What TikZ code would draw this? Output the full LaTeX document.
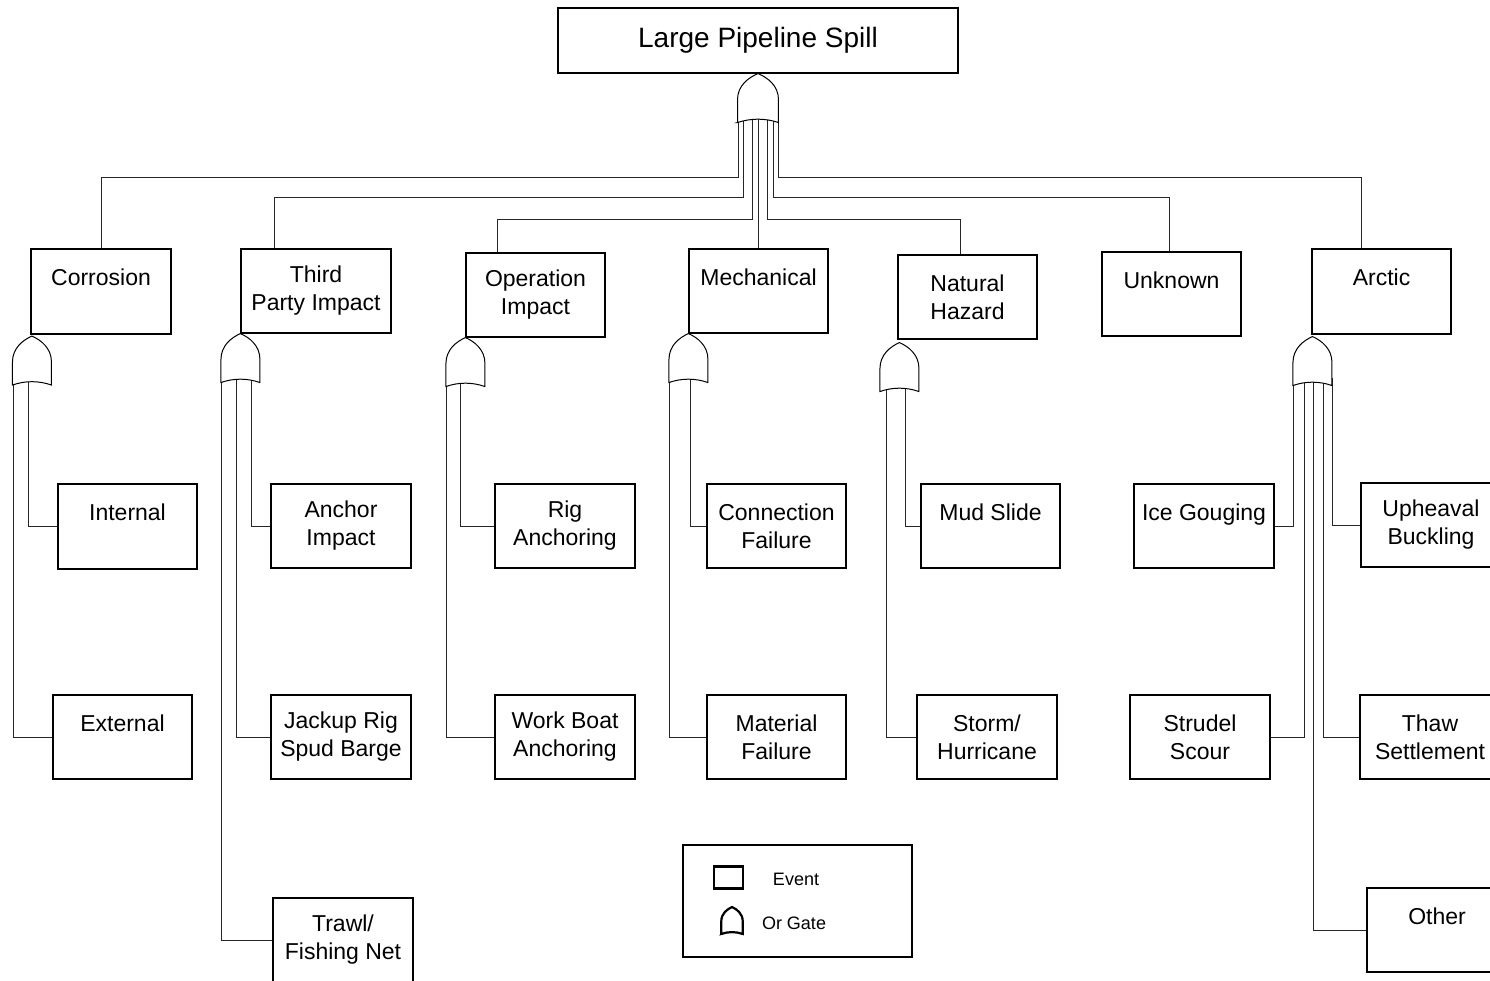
\documentclass[tikz,border=0pt]{standalone}
\usepackage{fontspec}
\setmainfont{Liberation Sans}
\usetikzlibrary{calc}
\tikzset{
  evt/.style={draw=black, line width=1.1pt, fill=white, inner sep=0pt, align=center,
    font=\fontsize{23}{28}\selectfont},
  link/.style={draw=black!85, line width=1pt},
  gate/.style={draw=black, fill=white},
  orgate/.pic={\path[gate, pic actions] (-19.5,49) -- (-19.5,26) .. controls (-19.5,12) and (-9,4) .. (0,0)
     .. controls (9,4) and (19.5,12) .. (19.5,26) -- (19.5,49) .. controls (7,44.5) and (-7,44.5) .. cycle;},
  legtxt/.style={font=\fontsize{18}{21}\selectfont, inner sep=0pt}
}
\begin{document}
\begin{tikzpicture}[x=1pt, y=-1pt, line width=1pt]
\clip (0,0) rectangle (1490,980);
\fill[white] (0,0) rectangle (1490,980);

% top event
\node[evt, minimum width=400pt, minimum height=65pt, font=\fontsize{28}{32}\selectfont] (top) at (758,40.5) {Large Pipeline Spill};

% level 1
\node[evt, minimum width=140pt, minimum height=85pt] (corr)  at (101,291.5)  {Corrosion\\\phantom{X}};
\node[evt, minimum width=150pt, minimum height=84pt] (third) at (316,291)    {Third\\Party Impact};
\node[evt, minimum width=139pt, minimum height=84pt] (oper)  at (535.5,295)  {Operation\\Impact};
\node[evt, minimum width=139pt, minimum height=84pt] (mech)  at (758.5,291)  {Mechanical\\\phantom{X}};
\node[evt, minimum width=139pt, minimum height=84pt] (nat)   at (967.5,297)  {Natural\\Hazard};
\node[evt, minimum width=139pt, minimum height=84pt] (unk)   at (1171.5,294) {Unknown\\\phantom{X}};
\node[evt, minimum width=139pt, minimum height=85pt] (arc)   at (1381.5,291.5) {Arctic\\\phantom{X}};

% level 2
\node[evt, minimum width=139pt, minimum height=85pt] (int)    at (127.5,526.5) {Internal\\\phantom{X}};
\node[evt, minimum width=139pt, minimum height=84pt] (ext)    at (122.5,737)   {External\\\phantom{X}};
\node[evt, minimum width=140pt, minimum height=84pt] (anch)   at (341,526)     {Anchor\\Impact};
\node[evt, minimum width=140pt, minimum height=84pt] (jack)   at (341,737)     {Jackup Rig\\Spud Barge};
\node[evt, minimum width=140pt, minimum height=84pt] (trawl)  at (343,940)     {Trawl/\\Fishing Net};
\node[evt, minimum width=140pt, minimum height=84pt] (rig)    at (565,526)     {Rig\\Anchoring};
\node[evt, minimum width=140pt, minimum height=84pt] (work)   at (565,737)     {Work Boat\\Anchoring};
\node[evt, minimum width=139pt, minimum height=84pt] (confail) at (776.5,526)  {Connection\\Failure};
\node[evt, minimum width=139pt, minimum height=84pt] (mat)    at (776.5,737)   {Material\\Failure};
\node[evt, minimum width=139pt, minimum height=84pt] (mud)    at (990.5,526)   {Mud Slide\\\phantom{X}};
\node[evt, minimum width=140pt, minimum height=84pt] (storm)  at (987,737)     {Storm/\\Hurricane};
\node[evt, minimum width=140pt, minimum height=84pt] (ice)    at (1204,526)    {Ice Gouging\\\phantom{X}};
\node[evt, minimum width=140pt, minimum height=84pt] (strud)  at (1200,737)    {Strudel\\Scour};
\node[evt, minimum width=140pt, minimum height=84pt] (uph)    at (1431,525)    {Upheaval\\Buckling};
\node[evt, minimum width=140pt, minimum height=84pt] (thaw)   at (1430,737)    {Thaw\\Settlement};
\node[evt, minimum width=140pt, minimum height=84pt] (other)  at (1437,930)    {Other\\\phantom{X}};

% entry points on level-1 boxes
\coordinate (thirdin) at ($(third.north west)+(34,0)$);
\coordinate (operin)  at ($(oper.north west)+(32,0)$);
\coordinate (natin)   at ($(nat.north west)+(63,0)$);
\coordinate (unkin)   at ($(unk.north west)+(68,0)$);
\coordinate (arcin)   at ($(arc.north west)+(50,0)$);

% top gate outputs
\coordinate (T1) at (738,115);
\coordinate (T2) at (743,110);
\coordinate (T3) at (752,110);
\coordinate (T4) at (758,110);
\coordinate (T5) at (767,110);
\coordinate (T6) at (773,110);
\coordinate (T7) at (778.5,115);
\draw[link] (T1) -- (738,177) -| (corr.north);
\draw[link] (T2) -- (743,197) -| (thirdin);
\draw[link] (T3) -- (752,219) -| (operin);
\draw[link] (T4) -- (T4 |- mech.north);
\draw[link] (T5) -- (767,219) -| (natin);
\draw[link] (T6) -- (773,197) -| (unkin);
\draw[link] (T7) -- (778.5,177) -| (arcin);

% lower gate outputs
\coordinate (C1) at (13,375);  \coordinate (C2) at (28,370);
\draw[link] (C1) |- (ext.west);
\draw[link] (C2) |- (int.west);
\coordinate (P1) at (221.5,375); \coordinate (P2) at (236,370); \coordinate (P3) at (251,370);
\draw[link] (P1) |- (trawl.west);
\draw[link] (P2) |- (jack.west);
\draw[link] (P3) |- (anch.west);
\coordinate (O1) at (446.5,380); \coordinate (O2) at (460,375);
\draw[link] (O1) |- (work.west);
\draw[link] (O2) |- (rig.west);
\coordinate (M1) at (669.5,375); \coordinate (M2) at (690,370);
\draw[link] (M1) |- (mat.west);
\draw[link] (M2) |- (confail.west);
\coordinate (N1) at (886,380); \coordinate (N2) at (905,380);
\draw[link] (N1) |- (storm.west);
\draw[link] (N2) |- (mud.west);
\coordinate (A1) at (1293.5,378); \coordinate (A2) at (1304,372); \coordinate (A3) at (1313,372);
\coordinate (A4) at (1323,372); \coordinate (A5) at (1332.5,378);
\draw[link] (A1) |- (ice.east);
\draw[link] (A2) |- (strud.east);
\draw[link] (A3) |- (other.west);
\draw[link] (A4) |- (thaw.west);
\draw[link] (A5) |- (uph.west);

% gates
\pic[xscale=1.05] at (top.south) {orgate};
\pic at ($(corr.south west)+(1.5,1.5)$) {orgate};
\pic at (third.south west) {orgate};
\pic at (oper.south west) {orgate};
\pic at (mech.south west) {orgate};
\pic at ($(nat.south west)+(2,3)$) {orgate};
\pic at ($(arc.south west)+(1,2)$) {orgate};

% legend
\node[draw=black, line width=2.5pt, minimum width=229pt, minimum height=112pt, inner sep=0pt] (leg) at (797.5,901) {};
\node[draw=black, line width=2.2pt, minimum width=29pt, minimum height=22pt, inner sep=0pt] (legevt) at (728.5,877.5) {};
\node[legtxt] (legevttxt) at (796,879) {Event};
\pic[scale=0.55, line width=2.2pt] at (732,907) {orgate};
\node[legtxt] (leggatetxt) at (794,923) {Or Gate};
\end{tikzpicture}
\end{document}
